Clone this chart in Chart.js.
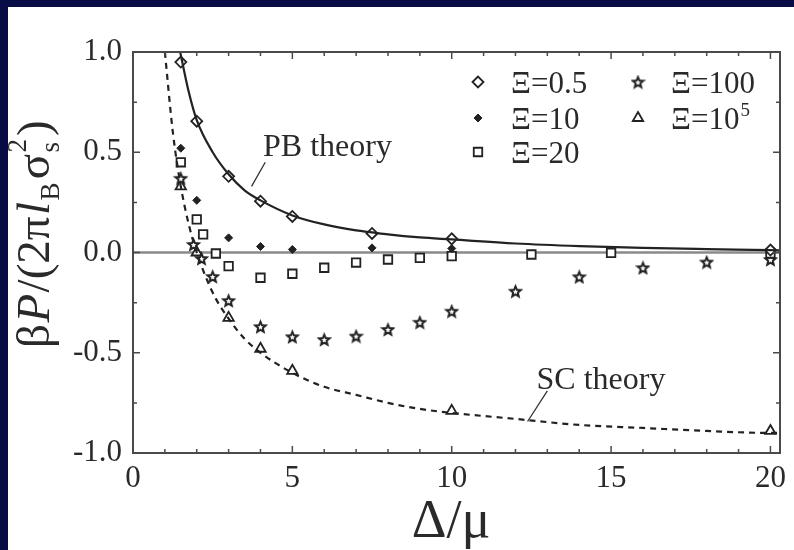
<!DOCTYPE html>
<html>
<head>
<meta charset="utf-8">
<script src="https://cdn.jsdelivr.net/npm/chart.js@4.4.0/dist/chart.umd.min.js"></script>
<style>
html, body { margin: 0; padding: 0; background: #080c46; }
#wrap { position: relative; width: 794px; height: 550px; overflow: hidden; }
#panel { position: absolute; left: 8px; top: 7px; right: 0; bottom: 0; background: #fff; }
#c { position: absolute; left: 0; top: 0; }
</style>
</head>
<body>
<div id="wrap"><div id="panel"></div><canvas id="c" width="794" height="550"></canvas></div>
<script>
// theory curves
var pbX = [1.48, 1.75, 2, 2.5, 3, 3.5, 4, 5, 6, 7, 7.5, 8, 9, 10, 12, 14, 16, 18, 20, 20.3];
var pbY = [1.0, 0.8, 0.66, 0.5, 0.39, 0.31, 0.26, 0.185, 0.14, 0.11, 0.1, 0.09, 0.075, 0.065, 0.045, 0.032, 0.023, 0.017, 0.012, 0.011];
var scX = [1, 1.25, 1.5, 1.75, 2, 2.5, 3, 3.5, 4, 5, 6, 7, 8, 9, 10, 12, 14, 16, 18, 20, 20.3];
var scY = [1.0, 0.6, 0.33, 0.14, 0, -0.2, -0.33, -0.43, -0.5, -0.6, -0.67, -0.71, -0.75, -0.78, -0.8, -0.83, -0.86, -0.875, -0.89, -0.9, -0.9];

// simulation points
var xi05X = [1.5, 2, 3, 4, 5, 7.5, 10, 20];
var xi05Y = [0.95, 0.655, 0.38, 0.256, 0.18, 0.095, 0.068, 0.012];
var xi10X = [1.5, 2, 3, 4, 5, 7.5, 10];
var xi10Y = [0.52, 0.26, 0.073, 0.03, 0.015, 0.023, 0.02];
var xi20X = [1.5, 2, 2.2, 2.6, 3, 4, 5, 6, 7, 8, 9, 10, 12.5, 15, 20];
var xi20Y = [0.45, 0.165, 0.09, -0.005, -0.068, -0.126, -0.106, -0.076, -0.05, -0.035, -0.027, -0.018, -0.01, -0.002, -0.005];
var xi100X = [1.5, 1.9, 2.15, 2.5, 3, 4, 5, 6, 7, 8, 9, 10, 12, 14, 16, 18, 20];
var xi100Y = [0.37, 0.04, -0.03, -0.12, -0.24, -0.37, -0.42, -0.434, -0.417, -0.384, -0.348, -0.293, -0.193, -0.121, -0.076, -0.048, -0.035];
var xi1e5X = [1.5, 2, 3, 4, 5, 10, 20];
var xi1e5Y = [0.33, 0.0, -0.326, -0.48, -0.59, -0.79, -0.89];

var legendLabels = ['Ξ=0.5', 'Ξ=10', 'Ξ=20', 'Ξ=100', 'Ξ=10^5'];
var xTicks = [0, 5, 10, 15, 20];
var yTicks = [-1, -0.5, 0, 0.5, 1];

var ink = '#222';
var serif = '"Liberation Serif", "DejaVu Serif", serif';

function pts(xs, ys) {
    return xs.map(function (x, i) { return { x: x, y: ys[i] }; });
}

function makeStar(size, lw) {
    var c = document.createElement('canvas');
    c.width = size; c.height = size;
    var g = c.getContext('2d');
    var cx = size / 2, cy = size / 2 + 0.6, R = size / 2 - lw, r = R * 0.45;
    g.beginPath();
    for (var i = 0; i < 10; i++) {
        var a = -Math.PI / 2 + i * Math.PI / 5;
        var rr = i % 2 ? r : R;
        g.lineTo(cx + rr * Math.cos(a), cy + rr * Math.sin(a));
    }
    g.closePath();
    g.fillStyle = '#fff';
    g.fill();
    g.lineWidth = lw;
    g.strokeStyle = ink;
    g.stroke();
    return c;
}
var starImg = makeStar(15, 2);

// text with ^superscript
function drawLabel(ctx, txt, x, y, size) {
    var parts = txt.split('^');
    ctx.font = size + 'px ' + serif;
    ctx.fillText(parts[0], x, y);
    if (parts[1]) {
        var w = ctx.measureText(parts[0]).width;
        ctx.font = Math.round(size * 0.6) + 'px ' + serif;
        ctx.fillText(parts[1], x + w + 1, y - size * 0.42);
    }
}

var decor = {
    id: 'decor',
    beforeDatasetsDraw: function (chart) {
        var ctx = chart.ctx, a = chart.chartArea;
        var y0 = chart.scales.y.getPixelForValue(0);
        ctx.save();
        ctx.strokeStyle = '#8a8a8a';
        ctx.lineWidth = 2.5;
        ctx.beginPath();
        ctx.moveTo(a.left, y0);
        ctx.lineTo(a.right, y0);
        ctx.stroke();
        ctx.restore();
    },
    afterDatasetsDraw: function (chart) {
        var ctx = chart.ctx, a = chart.chartArea;
        var sx = chart.scales.x, sy = chart.scales.y;
        ctx.save();
        // frame
        ctx.strokeStyle = '#4a4a4a';
        ctx.lineWidth = 2;
        ctx.strokeRect(a.left, a.top, a.right - a.left, a.bottom - a.top);
        // inward ticks
        ctx.lineWidth = 1.5;
        ctx.beginPath();
        for (var i = 0; i <= 20; i++) {
            var px = sx.getPixelForValue(i);
            var len = i % 5 === 0 ? 7 : 4;
            ctx.moveTo(px, a.bottom); ctx.lineTo(px, a.bottom - len);
            ctx.moveTo(px, a.top); ctx.lineTo(px, a.top + len);
        }
        for (var j = 0; j <= 8; j++) {
            var py = sy.getPixelForValue(-1 + j * 0.25);
            var ln = j % 2 === 0 ? 7 : 4;
            ctx.moveTo(a.left, py); ctx.lineTo(a.left + ln, py);
            ctx.moveTo(a.right, py); ctx.lineTo(a.right - ln, py);
        }
        ctx.stroke();

        // theory labels with pointers
        ctx.strokeStyle = '#333';
        ctx.lineWidth = 1.3;
        ctx.beginPath();
        ctx.moveTo(sx.getPixelForValue(3.72), sy.getPixelForValue(0.33));
        ctx.lineTo(sx.getPixelForValue(4.15), sy.getPixelForValue(0.45));
        ctx.moveTo(sx.getPixelForValue(12.38), sy.getPixelForValue(-0.843));
        ctx.lineTo(sx.getPixelForValue(13.0), sy.getPixelForValue(-0.69));
        ctx.stroke();
        ctx.fillStyle = '#2a2a2a';
        ctx.textAlign = 'left';
        ctx.textBaseline = 'alphabetic';
        ctx.font = '32px ' + serif;
        ctx.fillText('PB theory', sx.getPixelForValue(4.08), sy.getPixelForValue(0.48));
        ctx.fillText('SC theory', sx.getPixelForValue(12.66), sy.getPixelForValue(-0.683));

        // legend (column-major, two columns)
        var cols = [478, 638], rows = [82, 118, 152];
        var sets = chart.data.datasets.slice(2);
        sets.forEach(function (ds, k) {
            var cx = cols[Math.floor(k / 3)], cy = rows[k % 3];
            ctx.save();
            ctx.fillStyle = ds.backgroundColor;
            ctx.strokeStyle = ds.borderColor;
            ctx.lineWidth = ds.borderWidth;
            Chart.helpers.drawPoint(ctx, { pointStyle: ds.pointStyle, radius: ds.pointRadius, borderWidth: ds.borderWidth, rotation: 0 }, cx, cy);
            ctx.restore();
            ctx.fillStyle = '#2a2a2a';
            drawLabel(ctx, ds.label, cx + 33, cy + 11, 31);
        });

        // x title
        ctx.textAlign = 'center';
        ctx.font = '54px ' + serif;
        ctx.fillText('Δ/μ', 451, 537);

        // y title, rotated, built from pieces
        ctx.translate(49, 348);
        ctx.rotate(-Math.PI / 2);
        ctx.textAlign = 'left';
        var fs = 47, u = 0;
        var pieces = [
            { t: 'β' }, { t: 'P', it: true }, { t: '/(2π' }, { t: 'l', it: true },
            { t: 'B', sub: true }, { t: 'σ' }, { t: 's', sub: true, sup: '2' }, { t: ')' }
        ];
        pieces.forEach(function (p) {
            var size = p.sub ? fs * 0.58 : fs;
            ctx.font = (p.it ? 'italic ' : '') + Math.round(size) + 'px ' + serif;
            var dy = p.sub ? fs * 0.22 : 0;
            ctx.fillText(p.t, u, dy);
            var w = ctx.measureText(p.t).width;
            if (p.sup) {
                ctx.fillText(p.sup, u, -fs * 0.5);
                w = Math.max(w, ctx.measureText(p.sup).width);
            }
            u += w + (p.sub ? 3 : 1.5);
        });
        ctx.restore();
    }
};

new Chart(document.getElementById('c').getContext('2d'), {
    type: 'scatter',
    data: {
        datasets: [
            {
                type: 'line', label: 'PB theory', data: pts(pbX, pbY),
                borderColor: ink, borderWidth: 2.2, pointRadius: 0,
                cubicInterpolationMode: 'monotone', fill: false
            },
            {
                type: 'line', label: 'SC theory', data: pts(scX, scY),
                borderColor: ink, borderWidth: 2.2, borderDash: [6, 5], pointRadius: 0,
                cubicInterpolationMode: 'monotone', fill: false
            },
            {
                label: legendLabels[0], data: pts(xi05X, xi05Y), pointStyle: 'rectRot',
                pointRadius: 5.5, borderColor: ink, backgroundColor: '#fff', borderWidth: 1.8
            },
            {
                label: legendLabels[1], data: pts(xi10X, xi10Y), pointStyle: 'rectRot',
                pointRadius: 4, borderColor: ink, backgroundColor: ink, borderWidth: 1
            },
            {
                label: legendLabels[2], data: pts(xi20X, xi20Y), pointStyle: 'rect',
                pointRadius: 6, borderColor: ink, backgroundColor: '#fff', borderWidth: 1.8
            },
            {
                label: legendLabels[3], data: pts(xi100X, xi100Y), pointStyle: starImg,
                pointRadius: 7, borderColor: ink, backgroundColor: '#fff', borderWidth: 1.8
            },
            {
                label: legendLabels[4], data: pts(xi1e5X, xi1e5Y), pointStyle: 'triangle',
                pointRadius: 6, borderColor: ink, backgroundColor: '#fff', borderWidth: 1.8
            }
        ]
    },
    options: {
        responsive: false,
        animation: false,
        events: [],
        layout: { padding: { top: 52, right: 14, left: 0, bottom: 0 } },
        plugins: { legend: { display: false }, tooltip: { enabled: false } },
        scales: {
            x: {
                type: 'linear', min: 0, max: 20.3,
                grid: { display: false, drawTicks: false },
                border: { display: false },
                afterFit: function (s) { s.height = 97; },
                afterBuildTicks: function (s) { s.ticks = xTicks.map(function (v) { return { value: v }; }); },
                ticks: {
                    includeBounds: false, padding: 7, color: '#2a2a2a',
                    font: { family: serif, size: 31 },
                    maxRotation: 0
                }
            },
            y: {
                type: 'linear', min: -1, max: 1,
                grid: { display: false, drawTicks: false },
                border: { display: false },
                afterFit: function (s) { s.width = 133; },
                afterBuildTicks: function (s) { s.ticks = yTicks.map(function (v) { return { value: v }; }); },
                ticks: {
                    padding: 11, color: '#2a2a2a',
                    font: { family: serif, size: 31 },
                    callback: function (v) { return (Math.abs(v) < 1e-9 ? 0 : v).toFixed(1); }
                }
            }
        }
    },
    plugins: [decor]
});
</script>
</body>
</html>
